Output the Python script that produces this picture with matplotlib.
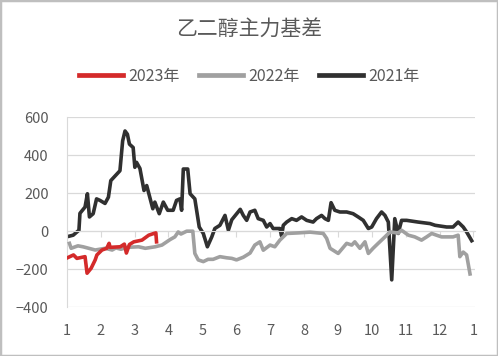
import matplotlib.pyplot as plt
from matplotlib.patches import Rectangle

plt.rcParams['font.family'] = ['Noto Sans CJK SC', 'DejaVu Sans']

# x = month position (1 = Jan 1, 13 = next Jan 1)
x_2021 = [1.08, 1.19, 1.36, 1.39, 1.54, 1.61, 1.67, 1.78, 1.88, 1.98, 2.13, 2.23,
          2.30, 2.57, 2.65, 2.72, 2.79, 2.85, 2.96, 3.01, 3.06, 3.16, 3.28, 3.36,
          3.54, 3.60, 3.73, 3.85, 3.98, 4.14, 4.24, 4.34, 4.39, 4.44, 4.57, 4.64,
          4.78, 4.91, 5.03, 5.15, 5.28, 5.37, 5.52, 5.67, 5.77, 5.87, 6.12, 6.21,
          6.31, 6.41, 6.55, 6.65, 6.80, 6.90, 7.00, 7.09, 7.29, 7.34, 7.39, 7.49,
          7.64, 7.78, 7.93, 8.08, 8.27, 8.37, 8.52, 8.62, 8.72, 8.80, 8.91, 9.06,
          9.26, 9.45, 9.60, 9.75, 9.90, 10.00, 10.14, 10.29, 10.39, 10.49, 10.59,
          10.68, 10.78, 10.88, 11.03, 11.37, 11.72, 11.87, 12.21, 12.40, 12.55,
          12.70, 12.80, 12.95]
y_2021 = [-26, -21, 5, 94, 127, 197, 75, 92, 170, 162, 146, 179,
          266, 318, 475, 527, 510, 458, 440, 336, 362, 330, 214, 240,
          118, 153, 92, 153, 110, 110, 162, 170, 110, 327, 327, 197,
          170, 22, -12, -82, -30, 14, 31, 83, 5, 60, 115, 83,
          57, 101, 110, 66, 57, 22, 40, 14, 14, -25, 31, 48,
          66, 57, 75, 57, 48, 66, 83, 66, 57, 150, 110, 101,
          101, 92, 75, 57, 14, 22, 66, 101, 83, 48, -256,
          66, -12, 57, 57, 48, 40, 31, 22, 22, 48,
          22, -4, -50]

x_2022 = [1.08, 1.13, 1.33, 1.48, 1.84, 2.14, 2.34, 2.45, 2.60, 2.78, 3.12, 3.32,
          3.61, 3.81, 4.05, 4.19, 4.29, 4.37, 4.54, 4.72, 4.78, 4.88, 5.03,
          5.17, 5.32, 5.52, 5.72, 5.87, 6.01, 6.21, 6.41, 6.55, 6.70, 6.80, 7.00,
          7.14, 7.29, 7.44, 7.49, 7.83, 8.18, 8.57, 8.67, 8.77, 9.01, 9.26, 9.41,
          9.50, 9.65, 9.80, 9.90, 10.04, 10.19, 10.39, 10.54, 10.78, 10.88, 11.08,
          11.27, 11.47, 11.62, 11.77, 11.91, 12.06, 12.40, 12.55, 12.60, 12.70,
          12.80, 12.90]
y_2022 = [-64, -90, -77, -82, -99, -90, -99, -88, -95, -85, -82, -90,
          -82, -73, -44, -30, -4, -15, 0, 0, -117, -151, -160,
          -148, -148, -134, -140, -143, -151, -137, -115, -73, -56, -100, -73,
          -82, -47, -21, -12, -9, -5, -12, -38, -90, -117, -64, -73,
          -56, -90, -56, -117, -90, -64, -30, -4, -10, 5, -21,
          -30, -47, -30, -12, -21, -30, -30, -21, -134, -110,
          -125, -225]

x_2023 = [1.03, 1.20, 1.30, 1.54, 1.60, 1.72, 1.84, 1.89, 2.04, 2.18, 2.25, 2.28,
          2.58, 2.70, 2.76, 2.85, 2.98, 3.22, 3.42, 3.57, 3.63, 3.65]
y_2023 = [-139, -125, -143, -134, -221, -195, -151, -125, -99, -90, -64, -85,
          -82, -68, -115, -70, -56, -47, -21, -12, -9, -56]

months = list(range(1, 14))
month_labels = [str(m) for m in range(1, 13)] + ['1']

fig = plt.figure(figsize=(4.98, 3.56), dpi=100)
ax = fig.add_axes([0.134, 0.137, 0.820, 0.534])

ax.plot(x_2023, y_2023, color='#d42a2a', lw=2.6, label='2023年', zorder=4)
ax.plot(x_2022, y_2022, color='#a0a0a0', lw=2.6, label='2022年', zorder=3)
ax.plot(x_2021, y_2021, color='#303030', lw=2.6, label='2021年', zorder=2)

ax.set_xlim(1, 13.05)
ax.set_ylim(-400, 600)
ax.set_yticks(range(-400, 601, 200))
ax.grid(axis='y', color='#d9d9d9', lw=0.9)
ax.set_axisbelow(True)

for s in ['top', 'right']:
    ax.spines[s].set_visible(False)
ax.spines['left'].set_color('#d9d9d9')
ax.spines['bottom'].set_position(('data', 0))
ax.spines['bottom'].set_color('#d9d9d9')
ax.set_xticks(months)
ax.tick_params(axis='x', length=4, color='#d9d9d9', labelbottom=False)
ax.tick_params(axis='y', length=0, pad=13, labelsize=10.5, labelcolor='#595959')

sec = ax.secondary_xaxis(0.0)
sec.set_xticks(months, month_labels)
sec.tick_params(length=0, pad=12, labelsize=10.5, labelcolor='#595959')
sec.spines['bottom'].set_visible(False)

fig.text(0.5, 0.915, '乙二醇主力基差', ha='center', va='center',
         fontsize=15, color='#595959')

fig.legend(loc='center', bbox_to_anchor=(0.5, 0.785), ncol=3, frameon=False,
           fontsize=11.5, labelcolor='#595959', handlelength=2.8,
           handletextpad=0.3, columnspacing=1.2)
for ln in fig.legends[0].get_lines():
    ln.set_linewidth(3.4)

fig.patches.append(Rectangle((0, 0), 1, 1, transform=fig.transFigure,
                             fill=False, edgecolor='#bfbfbf', lw=2.5))

fig.savefig('out.png', dpi=100)
